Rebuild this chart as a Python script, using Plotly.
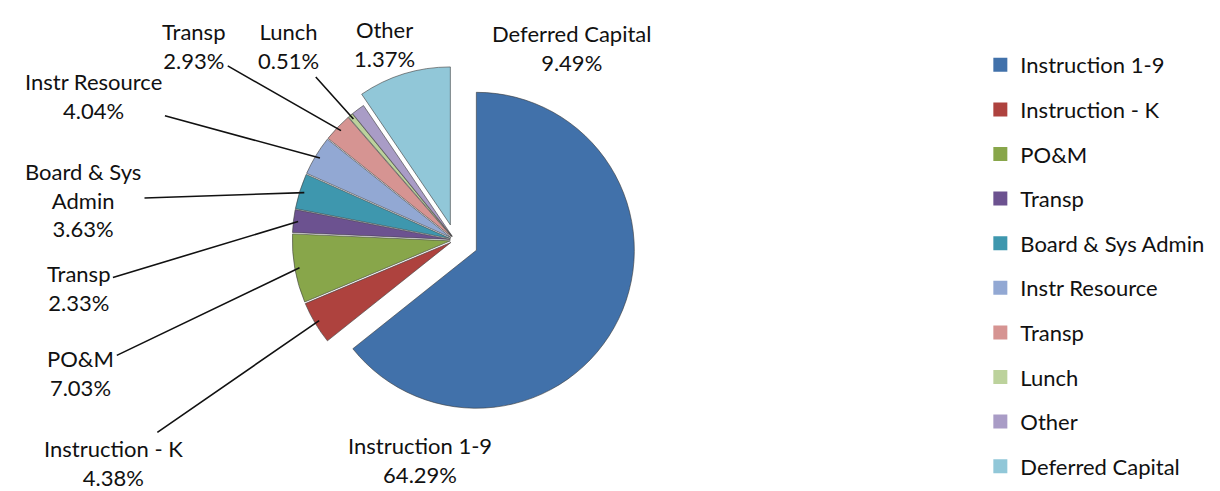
import math
import plotly.graph_objects as go

categories = ["Instruction 1-9", "Instruction - K", "PO&M", "Transp", "Board & Sys Admin",
              "Instr Resource", "Transp", "Lunch", "Other", "Deferred Capital"]
values = [64.29, 4.38, 7.03, 2.33, 3.63, 4.04, 2.93, 0.51, 1.37, 9.49]
label_text = ["Instruction 1-9", "Instruction - K", "PO&M", "Transp", "Board & Sys<br>Admin",
              "Instr Resource", "Transp", "Lunch", "Other", "Deferred Capital"]
colors = ["#4171AA", "#AE423E", "#88A64A", "#6C5290", "#3E97AE",
          "#92A8D3", "#D69492", "#BCD29C", "#A99CC6", "#91C7D8"]
pulls = [0.15, 0.03, 0.03, 0.03, 0.03, 0.03, 0.03, 0.03, 0.03, 0.10]

# label placement (pixels from top-left, text centre) and leader-line flag
label_pos = [(412, 452), (105, 455), (72, 365), (70, 280), (75, 192),
             (85, 88), (185, 38), (280, 38), (376, 36), (563, 40)]
leader = [False, True, True, True, True, True, True, True, False, False]

W, H = 1220, 491
FONT = "Lato"
FS = 22

# pie domain (paper fractions); margins are zero so paper == page
dom_x = [0.2175, 0.5153]
dom_y = [0.1574, 0.8976]

fig = go.Figure()
ids = [f"{c}#{i}" for i, c in enumerate(categories)]
fig.add_trace(go.Pie(
    labels=ids, values=values, textinfo="none", sort=False,
    direction="clockwise", rotation=0, pull=pulls,
    marker=dict(colors=colors, line=dict(color="#3a3a3a", width=0.6)),
    showlegend=False, hoverinfo="percent",
    domain=dict(x=dom_x, y=dom_y),
))

# geometry plotly uses for the pie (to aim the leader lines)
box_w = W * (dom_x[1] - dom_x[0])
box_h = H * (dom_y[1] - dom_y[0])
r = min(box_w, box_h) / (2 + 2 * max(pulls))
cx = W * (dom_x[0] + dom_x[1]) / 2
cy = H * (1 - dom_y[0]) - box_h / 2

total = sum(values)
cum = 0.0
for i, v in enumerate(values):
    mid = (cum + v / 2) / total * 2 * math.pi
    cum += v
    txt = f"{label_text[i]}<br>{v / total * 100:.2f}%"
    lx, ly = label_pos[i]
    common = dict(xref="paper", yref="paper", text=txt, xanchor="center",
                  yanchor="middle", font=dict(family=FONT, size=FS, color="#111"))
    if leader[i]:
        d = r * (pulls[i] + 0.97)
        tx = cx + d * math.sin(mid)
        ty = cy - d * math.cos(mid)
        fig.add_annotation(x=tx / W, y=1 - ty / H, ax=lx - tx, ay=ly - ty,
                           showarrow=True, arrowhead=0, arrowwidth=1.6,
                           arrowcolor="#111", standoff=0, startstandoff=2, **common)
    else:
        fig.add_annotation(x=lx / W, y=1 - ly / H, showarrow=False, **common)

# legend entries
for c, col in zip(categories, colors):
    fig.add_trace(go.Scatter(
        x=[None], y=[None], mode="markers", name=c, legendgroup=c + col,
        marker=dict(symbol="square", size=14, color=col),
    ))

fig.update_layout(
    width=W, height=H,
    margin=dict(l=0, r=0, t=0, b=0),
    paper_bgcolor="white", plot_bgcolor="white",
    font=dict(family=FONT, size=FS, color="#111"),
    xaxis=dict(visible=False), yaxis=dict(visible=False),
    legend=dict(x=0.797, y=1 - 36 / H, yanchor="top", xanchor="left",
                font=dict(family=FONT, size=FS, color="#111"),
                tracegroupgap=13, itemwidth=30, maxheight=1,
                bgcolor="rgba(0,0,0,0)"),
)

fig.write_html("out.html")
